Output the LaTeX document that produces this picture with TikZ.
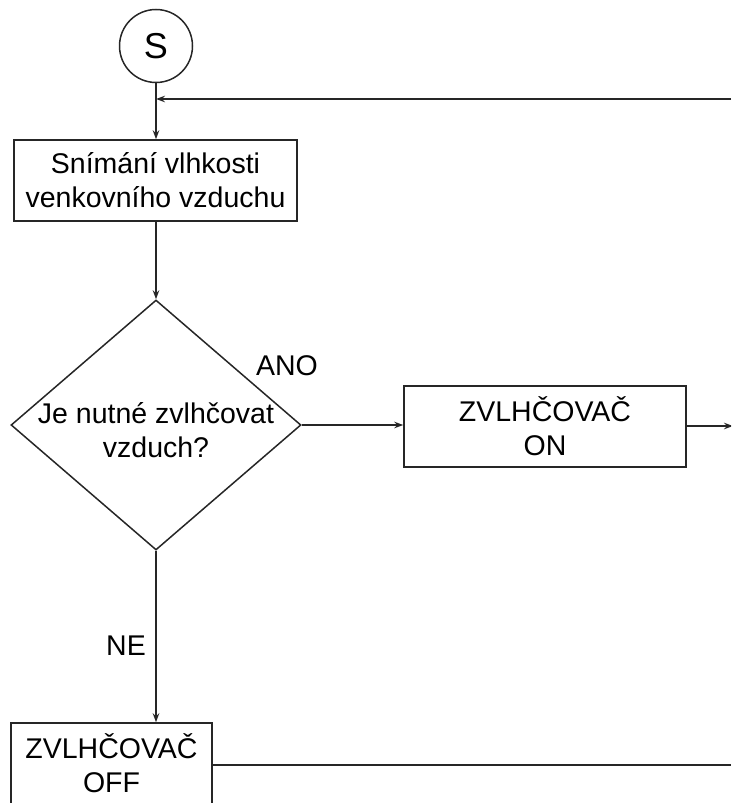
\documentclass[tikz,border=0pt]{standalone}
\usepackage{fontspec}
\setmainfont{Liberation Sans}
\usetikzlibrary{shapes.geometric,arrows.meta}
\begin{document}
\begin{tikzpicture}[x=1pt,y=-1pt,
  every node/.style={font=\fontsize{28.5}{34}\selectfont, text=black},
  line/.style={line width=1.5pt, draw=black!85},
  arr/.style={line, -{Stealth[length=9pt,width=6.5pt]}},
  proc/.style={line, rectangle, inner sep=0pt, align=center},
  dec/.style={line, diamond, inner sep=0pt, minimum width=290pt, minimum height=250pt, aspect=1.16}
]
\useasboundingbox (0,0) rectangle (731,803);
\clip (0,0) rectangle (731,803);

% start terminal
\node[line, circle, minimum size=73pt, inner sep=0pt, font=\fontsize{36}{40}\selectfont] (S) at (156,46) {S};

% process boxes
\node[proc, minimum width=283pt, minimum height=81pt] (snim) at (155.5,180.5)
  {Snímání vlhkosti\\venkovního vzduchu};
\node[proc, minimum width=282pt, minimum height=81pt] (on) at (545,426.5)
  {ZVLHČOVAČ\\ON};
\node[proc, minimum width=201pt, minimum height=81pt] (off) at (111.5,763.5)
  {ZVLHČOVAČ\\OFF};

% decision
\node[dec] (q) at (156,425) {};
\node[align=center] (qtext) at (156,430) {Je nutné zvlhčovat\\vzduch?};

% labels of the branches
\node (ano) at (287,366) {ANO};
\node (ne) at (126,646) {NE};

% loose ends at the right border
\coordinate (rin) at (731,99);
\coordinate (ron) at (733,426);
\coordinate (roff) at (731,765);
\coordinate (join) at (156,99);

% connectors
\draw[arr] (S.south) -- (snim.north -| S.south);
\draw[arr] (rin) -- (join);
\draw[arr] (snim.south -| q.north) -- (q.north);
\draw[arr] (q.east) -- (on.west |- q.east);
\draw[arr] (on.east |- ron) -- (ron);
\draw[arr] (q.south) -- (off.north -| q.south);
\draw[line] (off.east |- roff) -- (roff);
\end{tikzpicture}
\end{document}
